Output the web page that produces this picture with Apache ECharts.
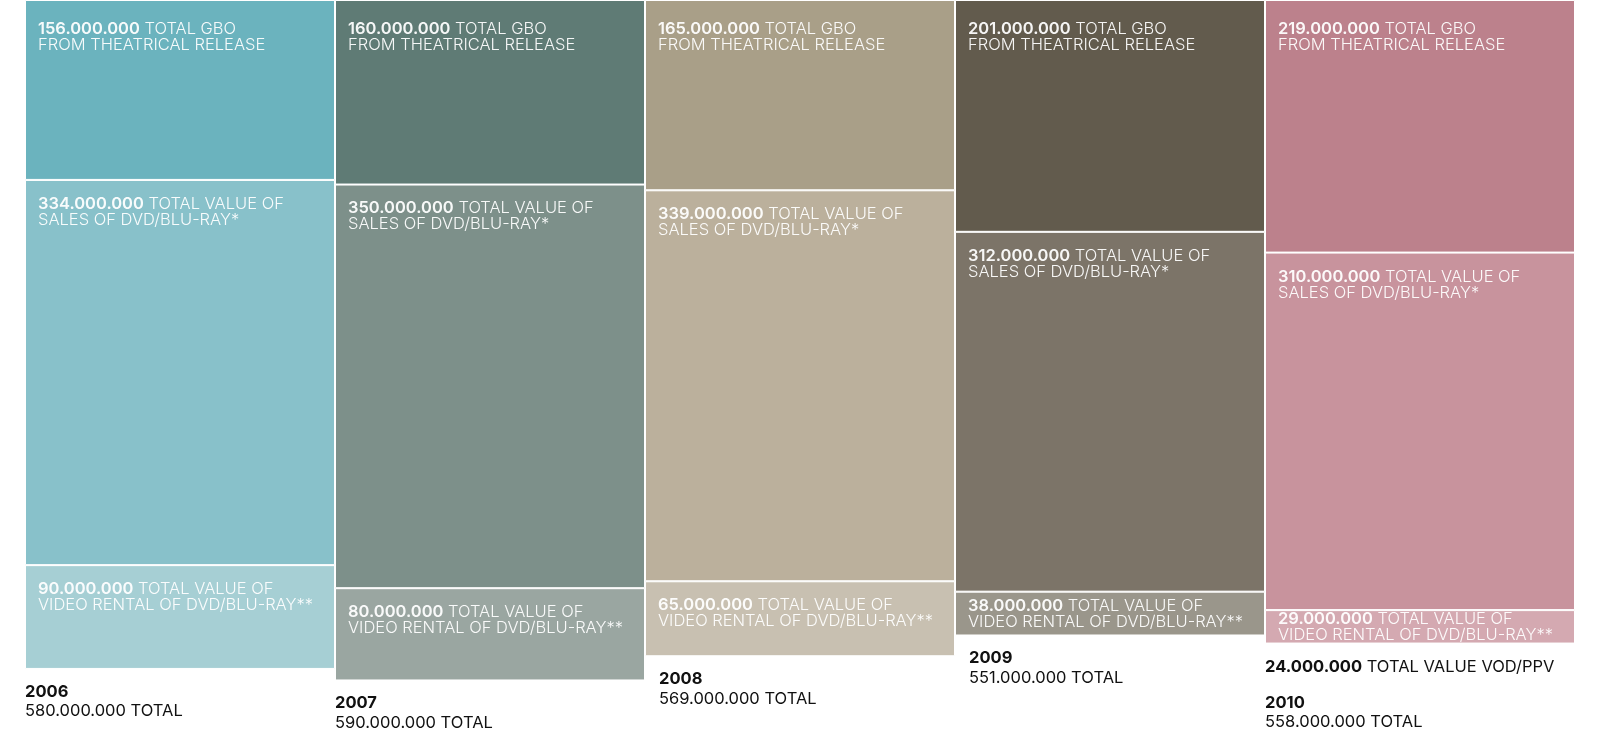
<!DOCTYPE html>
<html>
<head>
<meta charset="utf-8">
<script src="https://cdn.jsdelivr.net/npm/echarts@6/dist/echarts.min.js"></script>
<style>
html,body{margin:0;padding:0;background:#fff;}
#chart{width:1601px;height:737px;}
</style>
</head>
<body>
<div id="chart"></div>
<script>
// Values in millions
var years = ['2006', '2007', '2008', '2009', '2010'];
var gbo = [156, 160, 165, 201, 219];
var sales = [334, 350, 339, 312, 310];
var rental = [90, 80, 65, 38, 29];
var vod = [null, null, null, null, 24];
var totals = [580, 590, 569, 551, 558];

var gboColors = ['#6bb3be', '#5f7b75', '#a99f88', '#625b4d', '#bc818c'];
var salesColors = ['#88c1ca', '#7d908a', '#bbb09c', '#7c7468', '#c8939d'];
var rentalColors = ['#a6cfd4', '#9aa6a1', '#c8c0b1', '#9a968b', '#d4a9b1'];
var bottomLabelIndent = [0, 0, 14, 14, 0];

function fmt(n) {
  return String(n * 1000000).replace(/\B(?=(\d{3})+(?!\d))/g, '.');
}

var FONT = 'Inter';
var FS = 16.5;
var TXT = 'rgba(255,255,255,0.94)';

function makeData(vals, colors, topOffset) {
  return vals.map(function (v, i) {
    var small = v < 50;
    return {
      value: v,
      itemStyle: { color: colors[i] },
      label: small ? { position: 'insideLeft', distance: 13 } : { position: [13, topOffset] }
    };
  });
}

function withFormatter(text) {
  return {
    show: true,
    color: TXT,
    fontFamily: FONT,
    fontSize: FS,
    fontWeight: 300,
    lineHeight: 16,
    align: 'left',
    formatter: function (p) { return '{b|' + fmt(p.value) + '} ' + text; },
    rich: {
      b: { fontFamily: FONT, fontSize: FS, fontWeight: 600, color: TXT, lineHeight: 16 }
    }
  };
}

var itemBase = { borderColor: '#ffffff', borderWidth: 1 };

var option = {
  animation: false,
  backgroundColor: '#ffffff',
  grid: { left: 25, right: 26, top: 0, height: 692 },
  xAxis: { type: 'category', data: years, show: false },
  yAxis: { type: 'value', min: 0, max: 600, inverse: true, show: false },
  series: [
    {
      name: 'GBO', type: 'bar', stack: 'total', barCategoryGap: 0,
      itemStyle: itemBase,
      label: withFormatter('TOTAL GBO\nFROM THEATRICAL RELEASE'),
      data: makeData(gbo, gboColors, 21)
    },
    {
      name: 'Sales', type: 'bar', stack: 'total',
      itemStyle: itemBase,
      label: withFormatter('TOTAL VALUE OF\nSALES OF DVD/BLU-RAY*'),
      data: makeData(sales, salesColors, 16)
    },
    {
      name: 'Rental', type: 'bar', stack: 'total',
      itemStyle: itemBase,
      label: withFormatter('TOTAL VALUE OF\nVIDEO RENTAL OF DVD/BLU-RAY**'),
      data: makeData(rental, rentalColors, 16)
    },
    {
      name: 'Totals', type: 'bar', stack: 'total', silent: true,
      itemStyle: { color: 'transparent', borderWidth: 0 },
      label: {
        show: true,
        align: 'left',
        color: '#111111',
        fontFamily: FONT,
        fontSize: FS,
        formatter: function (p) {
          var i = p.dataIndex;
          var s = '';
          if (vod[i] != null) {
            s += '{vb|' + fmt(vod[i]) + '}{vt| TOTAL VALUE VOD/PPV}\n{sp|}\n';
          }
          s += '{y|' + years[i] + '}\n{t|' + fmt(totals[i]) + ' TOTAL}';
          return s;
        },
        rich: {
          vb: { fontFamily: FONT, fontSize: FS, fontWeight: 700, color: '#111111', lineHeight: 20 },
          vt: { fontFamily: FONT, fontSize: FS, fontWeight: 400, color: '#111111', lineHeight: 20 },
          sp: { fontSize: 10, lineHeight: 16 },
          y: { fontFamily: FONT, fontSize: FS, fontWeight: 700, color: '#111111', lineHeight: 20 },
          t: { fontFamily: FONT, fontSize: FS, fontWeight: 400, color: '#111111', lineHeight: 19 }
        }
      },
      data: years.map(function (y, i) {
        return { value: 0, label: { position: [bottomLabelIndent[i], 13] } };
      })
    }
  ]
};

var chart = echarts.init(document.getElementById('chart'), null, { renderer: 'canvas' });
chart.setOption(option);
</script>
</body>
</html>
